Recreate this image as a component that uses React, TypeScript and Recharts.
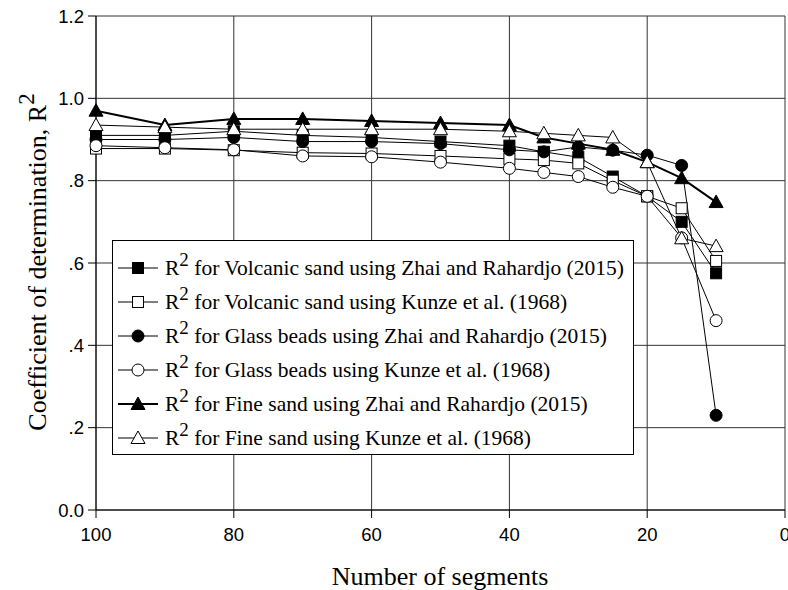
import React from 'react';
import { LineChart, Line, XAxis, YAxis, CartesianGrid } from 'recharts';

// number of segments (x)
const segments = [100, 90, 80, 70, 60, 50, 40, 35, 30, 25, 20, 15, 10];

const volcanicZhai = [0.91, 0.91, 0.92, 0.91, 0.905, 0.895, 0.885, 0.87, 0.857, 0.81, 0.762, 0.70, 0.575];
const volcanicKunze = [0.878, 0.878, 0.874, 0.868, 0.866, 0.86, 0.853, 0.85, 0.842, 0.80, 0.762, 0.733, 0.605];
const glassZhai = [0.90, 0.90, 0.905, 0.895, 0.895, 0.89, 0.875, 0.87, 0.882, 0.874, 0.862, 0.837, 0.23];
const glassKunze = [0.885, 0.88, 0.875, 0.86, 0.858, 0.845, 0.83, 0.82, 0.81, 0.784, 0.762, 0.661, 0.46];
const fineZhai = [0.97, 0.935, 0.95, 0.95, 0.945, 0.94, 0.935, 0.905, 0.89, 0.875, 0.845, 0.806, 0.748];
const fineKunze = [0.935, 0.93, 0.925, 0.925, 0.925, 0.925, 0.92, 0.915, 0.91, 0.905, 0.845, 0.66, 0.641];

const xTicks = [0, 20, 40, 60, 80, 100];
const yTicks = [0, 0.2, 0.4, 0.6, 0.8, 1.0, 1.2];
const yTickLabels = ['0.0', '.2', '.4', '.6', '.8', '1.0', '1.2'];

const data = segments.map((s, i) => ({
  seg: s,
  vz: volcanicZhai[i],
  vk: volcanicKunze[i],
  gz: glassZhai[i],
  gk: glassKunze[i],
  fz: fineZhai[i],
  fk: fineKunze[i],
}));

type Shape = 'square' | 'circle' | 'triangle';

const series: { key: string; name: string; shape: Shape; filled: boolean; width: number }[] = [
  { key: 'vz', name: 'for Volcanic sand using Zhai and Rahardjo (2015)', shape: 'square', filled: true, width: 1 },
  { key: 'vk', name: 'for Volcanic sand using Kunze et al. (1968)', shape: 'square', filled: false, width: 1 },
  { key: 'gz', name: 'for Glass beads using Zhai and Rahardjo (2015)', shape: 'circle', filled: true, width: 1 },
  { key: 'gk', name: 'for Glass beads using Kunze et al. (1968)', shape: 'circle', filled: false, width: 1 },
  { key: 'fz', name: 'for Fine sand using Zhai and Rahardjo (2015)', shape: 'triangle', filled: true, width: 2 },
  { key: 'fk', name: 'for Fine sand using Kunze et al. (1968)', shape: 'triangle', filled: false, width: 1 },
];

const serif = '"Liberation Serif", "Times New Roman", serif';
const sans = '"Liberation Sans", Arial, sans-serif';

function Marker({ shape, filled, cx, cy }: { shape: Shape; filled: boolean; cx: number; cy: number }) {
  const fill = filled ? '#000' : '#fff';
  if (shape === 'square') {
    return <rect x={cx - 5.5} y={cy - 5.5} width={11} height={11} fill={fill} stroke="#000" strokeWidth={1} />;
  }
  if (shape === 'circle') {
    return <circle cx={cx} cy={cy} r={6} fill={fill} stroke="#000" strokeWidth={1} />;
  }
  return (
    <polygon
      points={`${cx},${cy - 7} ${cx + 7},${cy + 5.5} ${cx - 7},${cy + 5.5}`}
      fill={fill}
      stroke="#000"
      strokeWidth={1}
    />
  );
}

const makeDot = (shape: Shape, filled: boolean) => (props: any) => {
  const { cx, cy, index } = props;
  if (cx == null || cy == null) return <g key={index} />;
  return (
    <g key={index}>
      <Marker shape={shape} filled={filled} cx={cx} cy={cy} />
    </g>
  );
};

function YLabel() {
  return (
    <text
      transform="translate(46,262) rotate(-90)"
      textAnchor="middle"
      fontFamily={serif}
      fontSize={26}
      fill="#000"
    >
      <tspan>Coefficient of determination, R</tspan>
      <tspan dy={-12} fontSize={23}>2</tspan>
    </text>
  );
}

function XLabel() {
  return (
    <text x={440} y={585} textAnchor="middle" fontFamily={serif} fontSize={26} fill="#000">
      Number of segments
    </text>
  );
}

function LegendBox() {
  return (
    <div
      style={{
        position: 'absolute',
        left: 112,
        top: 240,
        width: 522,
        height: 215,
        border: '1.5px solid #000',
        background: '#fff',
        boxSizing: 'border-box',
        paddingTop: 10,
        fontFamily: serif,
        fontSize: 21.5,
        color: '#000',
      }}
    >
      {series.map((s) => (
        <div key={s.key} style={{ height: 34, display: 'flex', alignItems: 'center' }}>
          <svg width={52} height={20} style={{ flex: 'none' }}>
            <line x1={5} y1={10} x2={45} y2={10} stroke="#000" strokeWidth={s.width} />
            <Marker shape={s.shape} filled={s.filled} cx={25} cy={10} />
          </svg>
          <span style={{ whiteSpace: 'nowrap' }}>
            R<span style={{ position: 'relative', top: -9, fontSize: 19 }}>2</span> {s.name}
          </span>
        </div>
      ))}
    </div>
  );
}

export default function App() {
  return (
    <div style={{ width: 788, height: 590, background: '#fff', position: 'relative' }}>
      <style>{'body{margin:0;}'}</style>
      <LineChart width={788} height={590} data={data} margin={{ top: 16, right: 3, bottom: 0, left: 0 }}>
        <CartesianGrid stroke="#333" strokeWidth={1} horizontalValues={yTicks} verticalValues={xTicks} />
        <XAxis
          dataKey="seg"
          type="number"
          domain={[0, 100]}
          reversed
          ticks={xTicks}
          interval={0}
          height={80}
          stroke="#000"
          tickSize={8}
          tickMargin={10}
          tick={{ fill: '#000', fontFamily: sans, fontSize: 18.5 }}
          label={<XLabel />}
        />
        <YAxis
          type="number"
          domain={[0, 1.2]}
          ticks={yTicks}
          interval={0}
          width={96}
          stroke="#000"
          tickSize={8}
          tickMargin={4}
          tickFormatter={(v: number) => yTickLabels[yTicks.findIndex((t) => Math.abs(t - v) < 1e-6)] ?? String(v)}
          tick={{ fill: '#000', fontFamily: sans, fontSize: 18.5 }}
          label={<YLabel />}
        />
        {series.map((s) => (
          <Line
            key={s.key}
            dataKey={s.key}
            name={s.name}
            stroke="#000"
            strokeWidth={s.width}
            dot={makeDot(s.shape, s.filled)}
            activeDot={false}
            isAnimationActive={false}
          />
        ))}
      </LineChart>
      <LegendBox />
    </div>
  );
}
